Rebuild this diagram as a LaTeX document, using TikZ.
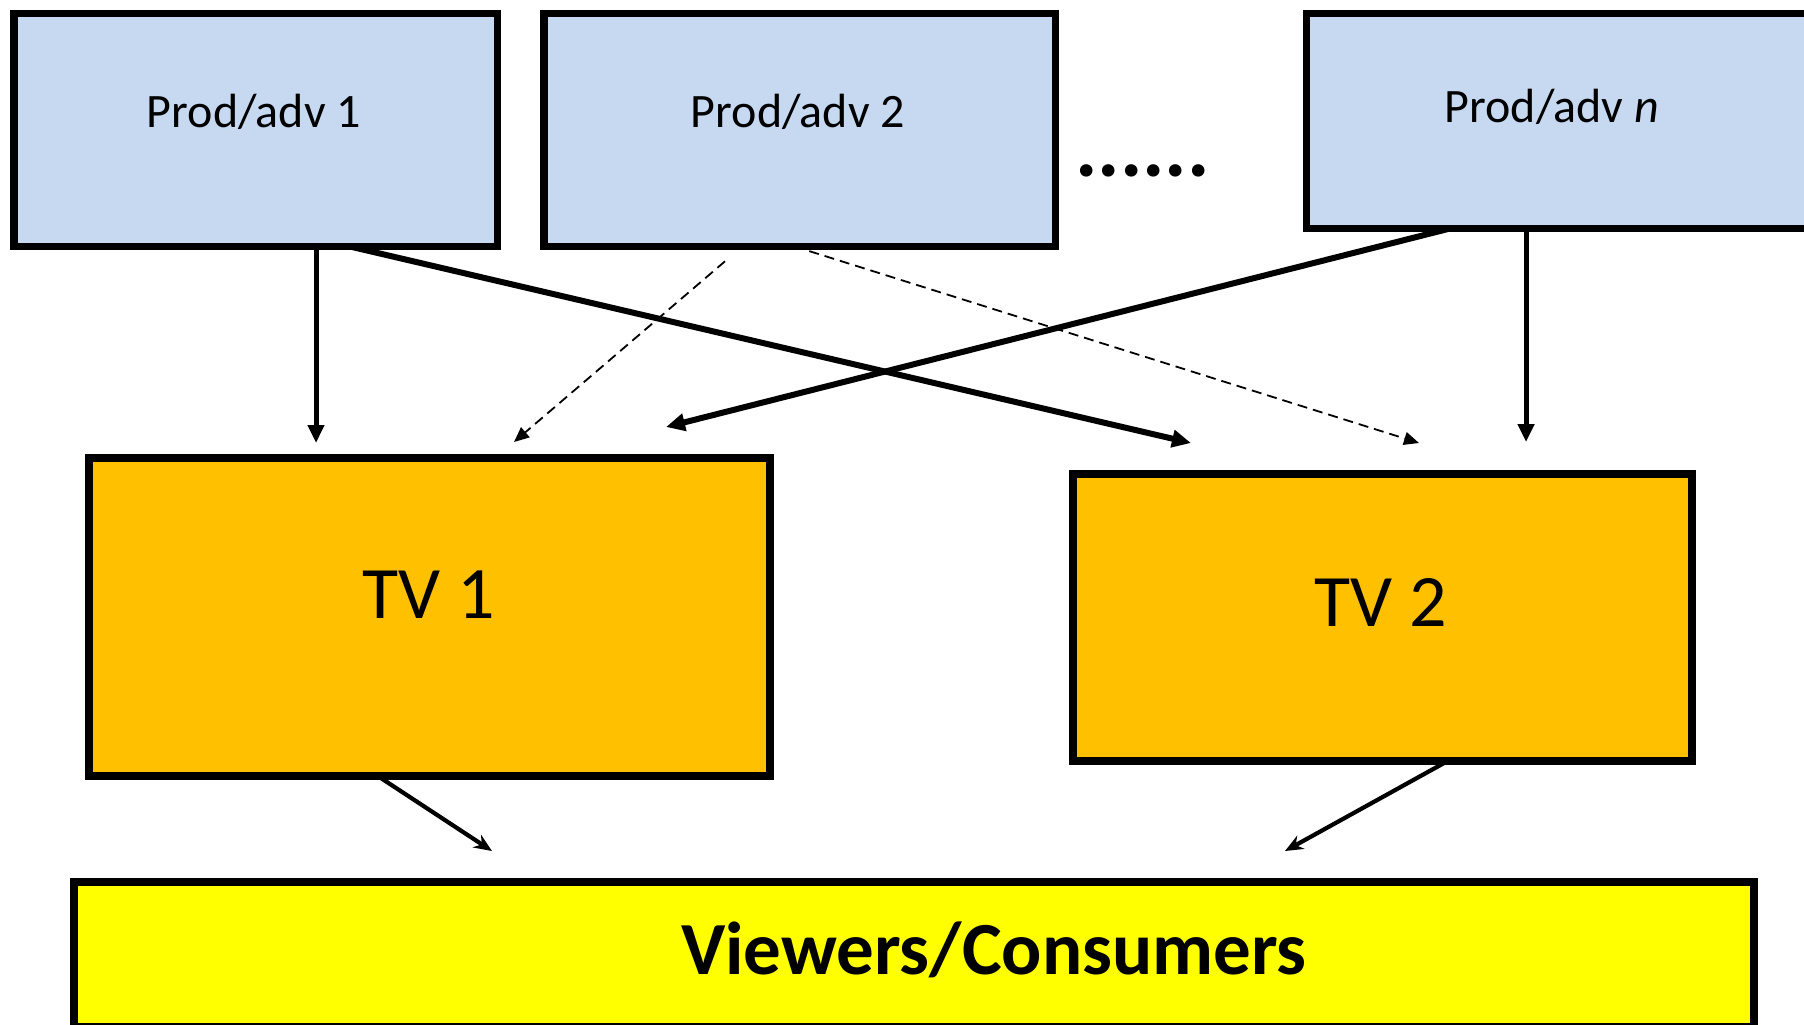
\documentclass[tikz,border=0pt]{standalone}
\usepackage{fontspec}
\setmainfont{Carlito}
\usetikzlibrary{arrows.meta,calc}
\definecolor{prodblue}{RGB}{198,217,240}
\definecolor{tvorange}{RGB}{255,192,0}
\definecolor{viewyellow}{RGB}{255,255,0}
\tikzset{
  boxbase/.style={draw=black, rectangle, inner sep=0pt, outer sep=0pt},
  prodbox/.style={boxbase, line width=7.5pt, fill=prodblue},
  tvbox/.style={boxbase, line width=8pt, fill=tvorange},
  viewbox/.style={boxbase, line width=8pt, fill=viewyellow},
  prodlabel/.style={font=\fontsize{48}{58}\selectfont, inner sep=0pt},
  tvlabel/.style={font=\fontsize{74}{88}\selectfont, inner sep=0pt},
  linkmain/.style={line width=6pt, -{Triangle[length=19pt,width=17pt]}},
  linkdown/.style={line width=5pt, -{Triangle[length=18pt,width=16pt]}},
  linkdash/.style={line width=1.8pt, dash pattern=on 10pt off 6pt, -{Triangle[length=15pt,width=13pt]}},
  linkview/.style={line width=4.2pt, -{Stealth[length=18pt,width=15pt]}},
}
\begin{document}
\begin{tikzpicture}[x=1pt,y=-1pt]
\useasboundingbox (0,0) rectangle (1804,1025);

% producers / advertisers
\node[prodbox, minimum width=483.5pt, minimum height=232.6pt] (p1) at (255.5,130) {};
\node[prodbox, minimum width=511.5pt, minimum height=232.6pt] (p2) at (799.5,130) {};
\node[prodbox, minimum width=543pt, minimum height=215pt] (pn) at (1578,121) {};
\node[prodlabel] (p1text) at (254,112) {Prod/adv 1};
\node[prodlabel] (p2text) at (798,112) {Prod/adv 2};
\node[prodlabel] (pntext) at (1552,107) {Prod/adv \textit{n}};
\node[font=\fontsize{84}{96}\bfseries, inner sep=0pt, anchor=base] (dots) at (1142.5,176) {......};

% broadcasters
\node[tvbox, minimum width=680.2pt, minimum height=317.5pt] (tv1) at (429.4,617) {};
\node[tvbox, minimum width=619.5pt, minimum height=287.2pt] (tv2) at (1382.25,617.1) {};
\node[tvlabel] (tv1text) at (429,595) {TV 1};
\node[tvlabel] (tv2text) at (1381,602) {TV 2};

% audience
\node[viewbox, minimum width=1680pt, minimum height=145pt] (view) at (914.25,954.5) {};
\node[font=\fontsize{75}{90}\selectfont\bfseries, inner sep=0pt] (viewtext) at (994,950) {Viewers/Consumers};

% arrow tips
\coordinate (t1) at (316,443);
\coordinate (t2) at (1191,443);
\coordinate (t3) at (514,442);
\coordinate (t4) at (1419,443);
\coordinate (t5) at (666,427);
\coordinate (t6) at (1526,442);
\coordinate (t7) at (492,851);
\coordinate (t8) at (1285,851);

% links from producers to broadcasters
\draw[linkdown] (p1.south -| t1) -- (t1);
\draw[linkmain] ([xshift=93.5pt]p1.south) -- (t2);
\draw[linkdash] ([shift={(-74.5pt,-15pt)}]p2.south) -- (t3);
\draw[linkdash] ([xshift=-5.5pt]p2.south) -- (t4);
\draw[linkmain] ([xshift=-128pt]pn.south) -- (t5);
\draw[linkdown] (pn.south -| t6) -- (t6);

% links from broadcasters to audience
\draw[linkview] ([xshift=-52pt]tv1.south) -- (t7);
\draw[linkview] ([xshift=66pt]tv2.south) -- (t8);
\end{tikzpicture}
\end{document}
